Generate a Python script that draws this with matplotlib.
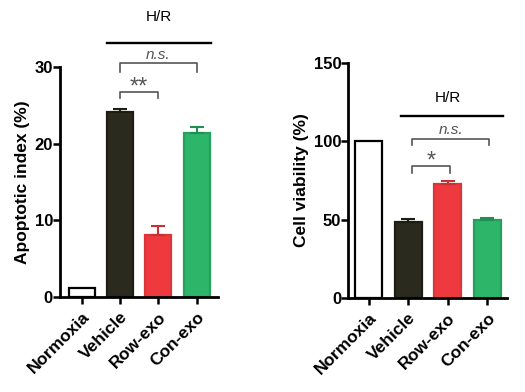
import matplotlib
matplotlib.use("Agg")
import matplotlib.pyplot as plt

plt.rcParams['font.family'] = ['Liberation Sans', 'DejaVu Sans']
plt.rcParams['font.weight'] = 'bold'

categories = ["Normoxia", "Vehicle", "Row-exo", "Con-exo"]
apoptotic = [1.2, 24.1, 8.1, 21.4]
apoptotic_err = [0.0, 0.4, 1.1, 0.8]
viability = [100, 48.7, 73, 50]
viability_err = [0.0, 1.6, 1.5, 1.3]

face = ["white", "#2b2a1e", "#ee3a3f", "#2db56a"]
edge = ["black", "#1e1d14", "#d9353a", "#25a05d"]
ecol = ["black", "#1e1d14", "#c93035", "#1f8f52"]

fig = plt.figure(figsize=(5.25, 3.92), dpi=100)
ax1 = fig.add_axes([0.114, 0.2423, 0.301, 0.587])
ax2 = fig.add_axes([0.663, 0.240, 0.303, 0.599])

def draw(ax, vals, errs, ylim, ticks, ylabel, xlim):
    x = list(range(len(categories)))
    ax.bar(x, vals, width=0.68, color=face, edgecolor=edge, linewidth=1.6, zorder=2)
    for i in x:
        if errs[i] > 0:
            ax.errorbar(i, vals[i], yerr=[[0], [errs[i]]], ecolor=ecol[i],
                        capsize=5, elinewidth=1.5, capthick=1.5, fmt='none', zorder=3)
    ax.set_ylim(*ylim)
    ax.set_xlim(*xlim)
    ax.set_yticks(ticks)
    ax.set_yticklabels([str(t) for t in ticks], fontsize=12, fontweight='bold')
    ax.set_xticks(x)
    ax.set_xticklabels(categories, rotation=45, ha='right', rotation_mode='anchor',
                       fontsize=12.5, fontweight='bold')
    ax.set_ylabel(ylabel, fontsize=12.5, fontweight='bold', labelpad=3)
    for s in ['top', 'right']:
        ax.spines[s].set_visible(False)
    for s in ['left', 'bottom']:
        ax.spines[s].set_linewidth(2)
    ax.tick_params(axis='y', width=1.8, length=5, direction='out', pad=0)
    ax.tick_params(axis='x', width=1.8, length=5, direction='out', pad=4)

draw(ax1, apoptotic, apoptotic_err, (0, 30), [0, 10, 20, 30], "Apoptotic index (%)", (-0.57, 3.55))
draw(ax2, viability, viability_err, (0, 150), [0, 50, 100, 150], "Cell viability (%)", (-0.52, 3.5))

gray = "#555555"

def bracket(ax, x0, x1, y, drop, text, ty, italic=False, fs=10, va='center'):
    ax.plot([x0, x0, x1, x1], [y - drop, y, y, y - drop], color=gray, lw=1.2, clip_on=False)
    ax.text((x0 + x1) / 2, ty, text, ha='center', va=va, fontsize=fs, color=gray,
            fontweight='normal', style='italic' if italic else 'normal')

# left panel annotations
ax1.plot([0.65, 3.36], [33.1, 33.1], color='black', lw=1.7, clip_on=False)
ax1.text(2.0, 36.5, "H/R", ha='center', va='center', fontsize=11, fontweight='normal')
bracket(ax1, 1.0, 3.0, 30.5, 1.2, "n.s.", 31.5, italic=True, fs=11)
bracket(ax1, 1.0, 2.0, 26.7, 0.7, "**", 26.5, fs=17, va='baseline')

# right panel annotations
ax2.plot([0.81, 3.39], [116, 116], color='black', lw=1.7, clip_on=False)
ax2.text(2.0, 128, "H/R", ha='center', va='center', fontsize=11, fontweight='normal')
bracket(ax2, 1.1, 3.05, 101.5, 3.5, "n.s.", 107, italic=True, fs=11)
bracket(ax2, 1.1, 2.05, 84, 4, "*", 83.5, fs=17, va='baseline')

fig.savefig("out.png", dpi=100)
